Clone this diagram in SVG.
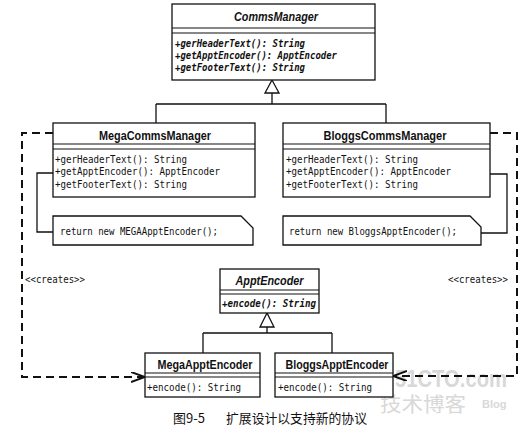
<svg xmlns="http://www.w3.org/2000/svg" width="528" height="428" viewBox="0 0 528 428">
<style>
.box{fill:#fff;stroke:#111;stroke-width:1.3}
.sep{stroke:#111;stroke-width:1.1}
.title{font-family:"Liberation Sans",Arial,sans-serif;font-weight:bold;font-size:12.5px;fill:#111;text-anchor:middle}
.ititle{font-family:"Liberation Sans",Arial,sans-serif;font-weight:bold;font-style:italic;font-size:12.5px;fill:#111;text-anchor:middle}
.m{font-family:"DejaVu Sans Mono","Liberation Mono",monospace;font-size:10px;fill:#111}
.mi{font-family:"DejaVu Sans Mono","Liberation Mono",monospace;font-size:10px;font-weight:bold;font-style:italic;fill:#111}
.line{fill:none;stroke:#111;stroke-width:1.3}
.dash{fill:none;stroke:#111;stroke-width:2;stroke-dasharray:8 5}
.tri{fill:#fff;stroke:#111;stroke-width:1.3}
.cap{font-family:"Noto Sans CJK SC","Noto Sans",sans-serif;font-size:13px;fill:#111}
.wm{font-family:"Liberation Sans",Arial,sans-serif;font-weight:bold;fill:#d8d8d8}
</style>
<defs>
<marker id="open" markerWidth="16" markerHeight="12" refX="14" refY="5" orient="auto" markerUnits="userSpaceOnUse">
<path d="M0,0 L14,5 L0,10" fill="none" stroke="#111" stroke-width="2"/>
</marker>
</defs>

<g id="watermark">
<text class="wm" x="395" y="387" font-size="24" textLength="112" lengthAdjust="spacingAndGlyphs">51CTO.com</text>
<text x="380" y="412" font-family="'Noto Sans CJK SC',sans-serif" font-size="20" fill="#d8d8d8" textLength="86" lengthAdjust="spacingAndGlyphs">技术博客</text>
<text class="wm" x="482" y="408" font-size="11" font-weight="normal">Blog</text>
</g>

<g id="connectors">
<polygon class="tri" points="272,80 265,93 279,93"/>
<path class="line" d="M272,93 V104 M156,104 H386 M156,104 V123 M386,104 V123"/>
<polygon class="tri" points="267,313 260,327 274,327"/>
<path class="line" d="M267,327 V333 M203,333 H332 M203,333 V353 M332,333 V353"/>
<path class="line" d="M53,173 H37 V232 H53"/>
<path class="line" d="M490,174 H507 V233 H481"/>
<path class="dash" d="M53,133 H22 V377 H145" marker-end="url(#open)"/>
<path class="dash" d="M490,133 H517 V376 H393" marker-end="url(#open)"/>
<text class="m" x="25" y="283" textLength="60" lengthAdjust="spacingAndGlyphs">&lt;&lt;creates&gt;&gt;</text>
<text class="m" x="448" y="283" textLength="60" lengthAdjust="spacingAndGlyphs">&lt;&lt;creates&gt;&gt;</text>
</g>

<g id="CommsManager">
<rect class="box" x="172" y="4" width="203" height="76"/>
<line class="sep" x1="172" y1="28" x2="375" y2="28"/>
<line class="sep" x1="172" y1="33" x2="375" y2="33"/>
<text class="ititle" x="276" y="21" textLength="84" lengthAdjust="spacingAndGlyphs">CommsManager</text>
<text class="mi" x="175" y="47" textLength="130" lengthAdjust="spacingAndGlyphs">+gerHeaderText(): String</text>
<text class="mi" x="175" y="59" textLength="162" lengthAdjust="spacingAndGlyphs">+getApptEncoder(): ApptEncoder</text>
<text class="mi" x="175" y="71" textLength="130" lengthAdjust="spacingAndGlyphs">+getFooterText(): String</text>
</g>

<g id="MegaCommsManager">
<rect class="box" x="53" y="123" width="202" height="74"/>
<line class="sep" x1="53" y1="144" x2="255" y2="144"/>
<line class="sep" x1="53" y1="149" x2="255" y2="149"/>
<text class="title" x="155" y="140" textLength="112" lengthAdjust="spacingAndGlyphs">MegaCommsManager</text>
<text class="m" x="55" y="162.5" textLength="132" lengthAdjust="spacingAndGlyphs">+gerHeaderText(): String</text>
<text class="m" x="55" y="175" textLength="165" lengthAdjust="spacingAndGlyphs">+getApptEncoder(): ApptEncoder</text>
<text class="m" x="55" y="187.5" textLength="132" lengthAdjust="spacingAndGlyphs">+getFooterText(): String</text>
</g>

<g id="BloggsCommsManager">
<rect class="box" x="283" y="123" width="207" height="74"/>
<line class="sep" x1="283" y1="144" x2="490" y2="144"/>
<line class="sep" x1="283" y1="149" x2="490" y2="149"/>
<text class="title" x="385" y="140" textLength="123" lengthAdjust="spacingAndGlyphs">BloggsCommsManager</text>
<text class="m" x="286" y="162.5" textLength="132" lengthAdjust="spacingAndGlyphs">+gerHeaderText(): String</text>
<text class="m" x="286" y="175" textLength="165" lengthAdjust="spacingAndGlyphs">+getApptEncoder(): ApptEncoder</text>
<text class="m" x="286" y="187.5" textLength="132" lengthAdjust="spacingAndGlyphs">+getFooterText(): String</text>
</g>

<g id="MegaNote">
<path class="box" d="M53,216 H241 L253,228 V245 H53 Z"/>
<text class="m" x="60" y="235" textLength="158" lengthAdjust="spacingAndGlyphs">return new MEGAApptEncoder();</text>
</g>

<g id="BloggsNote">
<path class="box" d="M283,216 H470 L481,227 V245 H283 Z"/>
<text class="m" x="289" y="235" textLength="168" lengthAdjust="spacingAndGlyphs">return new BloggsApptEncoder();</text>
</g>

<g id="ApptEncoder">
<rect class="box" x="220" y="269" width="99" height="44"/>
<line class="sep" x1="220" y1="290" x2="319" y2="290"/>
<line class="sep" x1="220" y1="294" x2="319" y2="294"/>
<text class="ititle" x="269.5" y="285" textLength="68" lengthAdjust="spacingAndGlyphs">ApptEncoder</text>
<text class="mi" x="222" y="306.5" textLength="94" lengthAdjust="spacingAndGlyphs">+encode(): String</text>
</g>

<g id="MegaApptEncoder">
<rect class="box" x="145" y="353" width="115" height="44"/>
<line class="sep" x1="145" y1="373" x2="260" y2="373"/>
<line class="sep" x1="145" y1="377" x2="260" y2="377"/>
<text class="title" x="205" y="369" textLength="95" lengthAdjust="spacingAndGlyphs">MegaApptEncoder</text>
<text class="m" x="147" y="391" textLength="94" lengthAdjust="spacingAndGlyphs">+encode(): String</text>
</g>

<g id="BloggsApptEncoder">
<rect class="box" x="275" y="353" width="118" height="44"/>
<line class="sep" x1="275" y1="373" x2="393" y2="373"/>
<line class="sep" x1="275" y1="377" x2="393" y2="377"/>
<text class="title" x="337" y="369" textLength="103" lengthAdjust="spacingAndGlyphs">BloggsApptEncoder</text>
<text class="m" x="278" y="391" textLength="94" lengthAdjust="spacingAndGlyphs">+encode(): String</text>
</g>

<g id="caption">
<text class="cap" x="173" y="423">图9-5</text>
<text class="cap" x="226" y="423" textLength="141" lengthAdjust="spacingAndGlyphs">扩展设计以支持新的协议</text>
</g>
</svg>
